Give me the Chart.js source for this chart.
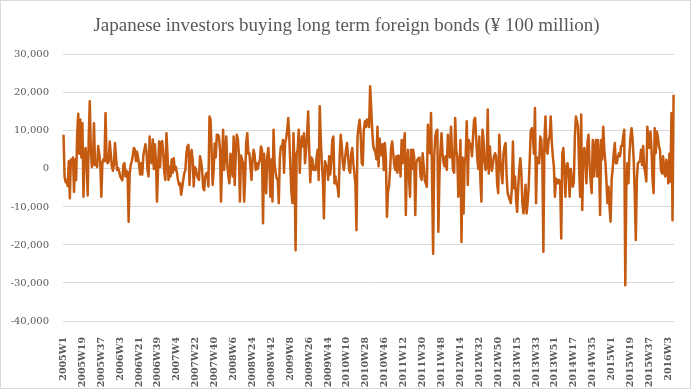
<!DOCTYPE html>
<html>
<head>
<meta charset="utf-8">
<script src="https://cdn.jsdelivr.net/npm/chart.js@4/dist/chart.umd.min.js"></script>
<style>
  html, body { margin: 0; padding: 0; background: #fff; overflow: hidden; }
  #chart { display: block; }
</style>
</head>
<body>
<canvas id="chart" width="693" height="390"></canvas>
<script>
// weekly net purchases, ¥100 million
const y2005 = [9000,-2000,-3500,-3000,-4500,2000,-7700,2500,1000,3000, -6000,2500,-3000,9000,14500,4000,13000,3000,12000,-7300,
  3000,5500,2000,-7000,8000,17800,5000,500,1500,12000, 1000,2000,500,6000,4000,1500,-7300,1500,2500,2000,
  14700,2500,1500,2000,7200,4000,700,-500,1000,6800, 3000,-300];
const y2006 = [200,-700,-2000,-2500,-3000,1000,1500,-2000,-500,-1000, -13900,-1200,1000,2000,3500,5500,5000,2000,4500,3000,
  1000,-1500,1500,-1500,3500,5000,6500,4500,-300,-2000, 8500,2000,1500,7700,0,6500,2000,-8600,-500,7200,
  500,7000,7300,4000,-1000,-2900,9400,4000,-2900,500, -2000,2500,-1000];
const y2007 = [2800,-300,500,-1000,-2900,-4200,-3800,-6800,-5000,-2900, -1200,-300,4000,5900,6300,-4200,3500,5000,2500,-4600,
  500,0,-1500,-2500,-2900,3300,2000,-300,-5000,-5600, -2000,-1200,-1000,-4600,13800,13000,5000,-4200,-300,6700,
  3000,9000,9000,8500,5000,-8600,2000,10300,-300,4000, 8500,1000];
const y2008 = [-2000,-3800,4000,1000,-2000,8500,-4200,3300,9000,8000, 4000,-8600,3500,2500,1500,-8600,-2000,7000,9400,4000,
  4100,600,-2900,2500,5000,3700,-300,1500,0,1500, 2300,5900,5000,-14300,4000,-300,-6400,3000,5500,2000,
  -7300,2500,-8600,10300,1500,-1000,-2500,-2900,-9000,2800, 5900,5500];
const y2009 = [7600,-1000,6800,8000,10000,13400,8500,1000,-6000,-9000, 9400,500,-21400,4000,5000,10300,-1000,6000,8500,5900,
  9400,1500,5000,9000,15100,5000,-3500,3000,2500,-300, 600,-300,3000,5000,-2900,16500,8000,1500,-3000,-13000,
  2000,1000,500,-2900,3300,-1500,2000,7600,8500,-3800, -2000,-4000];
const y2010 = [-4700,-7300,3300,9000,6000,1500,-300,2400,5000,6800, 3300,-300,-1000,4000,5500,1500,-1100,-4000,-16100,8500,
  11000,12900,9000,1500,1000,10300,12500,11000,13000,12000, 11000,21700,16000,10000,6000,5000,4500,2500,11100,700,
  8000,5000,3500,6500,-300,6800,3000,-12600,-6000,-4500, -300,5500];
const y2011 = [7200,4000,1000,-300,3300,-1000,3500,3000,-2000,7600, 1500,6000,9400,-12100,1500,5000,-2000,-7300,5000,0,
  5000,3000,-12100,1500,2400,2800,3000,-2000,-2900,4100, 1000,-2900,-3800,-4700,11600,6000,4100,14700,-2900,-22300,
  3000,8500,9800,10300,-16500,-2000,5000,9400,4000,1500, 700,3300];
const y2012 = [-300,9000,5000,3000,11100,4100,-300,-1000,13400,5000, 3300,-7300,-2000,7600,-19200,3000,-11700,2000,3300,12500,
  -4200,7600,6000,6500,3300,8500,12900,13400,8000,3000, 0,8500,-3000,-8600,10300,7600,2000,-300,500,15600,
  -1200,5900,2000,-500,1500,3300,4100,3300,-4000,-6400, 9000,2400,-1000];
const y2013 = [-3800,4000,5900,6800,-2000,-6400,-7300,-8200,-9000,-5000, 7200,-5100,-2000,-8000,-11300,-5000,-300,2800,-1000,-9000,
  -11700,-9000,-4200,-11700,-9000,-4700,2400,10000,10700,9000, 4000,16000,-9000,3000,2500,1500,8500,7600,2000,-21800,
  7600,13800,5000,4000,7600,8500,13800,7000,3300,600, -7300,-2500];
const y2014 = [-2900,-3800,-2900,-3800,-18300,4000,5500,0,-7300,700, 1500,-1000,-7300,0,-2500,-4700,-3500,8500,13800,12500,
  11000,700,-7300,14300,-10800,2000,5500,3000,-3800,7000, 9000,1000,-3000,-6400,7600,-2000,5000,7600,-2000,7600,
  3000,-12100,7600,2500,11100,5000,2000,-3000,-9000,-4700, -10000,-13900];
const y2015 = [-2900,0,4100,6800,1500,1500,3300,4100,3300,6000, 6000,8500,10300,-30600,-5000,1500,-3800,4100,8500,10700,
  7600,2500,-6400,-18700,-3000,1500,1800,2000,5000,1000, 6000,500,-1000,-3300,11100,7000,5500,9800,5000,-3000,
  -6400,10700,4100,9800,8500,6000,5000,-300,-1200,3300, -1000,-2000];
const y2016 = [2400,700,-3800,4000,-3300,14700,-13500,19500];

const years = [2005, 2006, 2007, 2008, 2009, 2010, 2011, 2012, 2013, 2014, 2015, 2016];
const byYear = [y2005, y2006, y2007, y2008, y2009, y2010, y2011, y2012, y2013, y2014, y2015, y2016];

const yTicks = [-40000, -30000, -20000, -10000, 0, 10000, 20000, 30000];
const labelEvery = 18;

const labels = [];
const values = [];
years.forEach((yr, k) => {
  byYear[k].forEach((v, i) => {
    labels.push(yr + 'W' + (i + 1));
    values.push(v);
  });
});

// thin grey chart-area border like the spreadsheet export
const frame = {
  id: 'frame',
  afterDraw(chart) {
    const c = chart.ctx;
    c.save();
    c.strokeStyle = '#d9d9d9';
    c.lineWidth = 1;
    c.strokeRect(0.5, 0.5, chart.width - 3, chart.height - 2);
    c.restore();
  }
};

const ctx = document.getElementById('chart').getContext('2d');
new Chart(ctx, {
  type: 'line',
  data: {
    labels: labels,
    datasets: [{
      data: values,
      borderColor: '#c55a11',
      borderWidth: 2.5,
      borderJoinStyle: 'round',
      pointRadius: 0,
      tension: 0,
      fill: false
    }]
  },
  plugins: [frame],
  options: {
    responsive: false,
    animation: false,
    devicePixelRatio: 1,
    layout: { padding: 0 },
    plugins: {
      legend: { display: false },
      tooltip: { enabled: false },
      title: {
        display: true,
        text: 'Japanese investors buying long term foreign bonds (\u00a5 100 million)',
        color: '#595959',
        font: { family: 'Liberation Serif', size: 19, weight: 'normal' },
        padding: { top: 15, bottom: 17 }
      }
    },
    scales: {
      x: {
        type: 'category',
        offset: true,
        grid: { display: false },
        border: { display: false },
        afterFit: s => { s.height = 69; },
        ticks: {
          autoSkip: false,
          minRotation: 90,
          maxRotation: 90,
          padding: 8,
          color: '#595959',
          font: { family: 'DejaVu Serif', size: 9.5, weight: 'bold' },
          callback: (v, i) => (i % labelEvery === 0 ? labels[i] : '')
        }
      },
      y: {
        min: yTicks[0],
        max: yTicks[yTicks.length - 1],
        afterFit: s => { s.width = 63; },
        afterBuildTicks: s => { s.ticks = yTicks.map(v => ({ value: v })); },
        grid: { color: '#d9d9d9', lineWidth: 1, drawTicks: false },
        border: { display: false },
        ticks: {
          padding: 14,
          color: '#595959',
          font: { family: 'DejaVu Serif', size: 10 },
          callback: v => v.toLocaleString('en-US')
        }
      },
      // empty right-hand strip so the title stays centred on the whole chart
      yPad: {
        position: 'right',
        grid: { display: false },
        border: { display: false },
        ticks: { display: false },
        afterFit: s => { s.width = 16; }
      }
    }
  }
});
</script>
</body>
</html>
